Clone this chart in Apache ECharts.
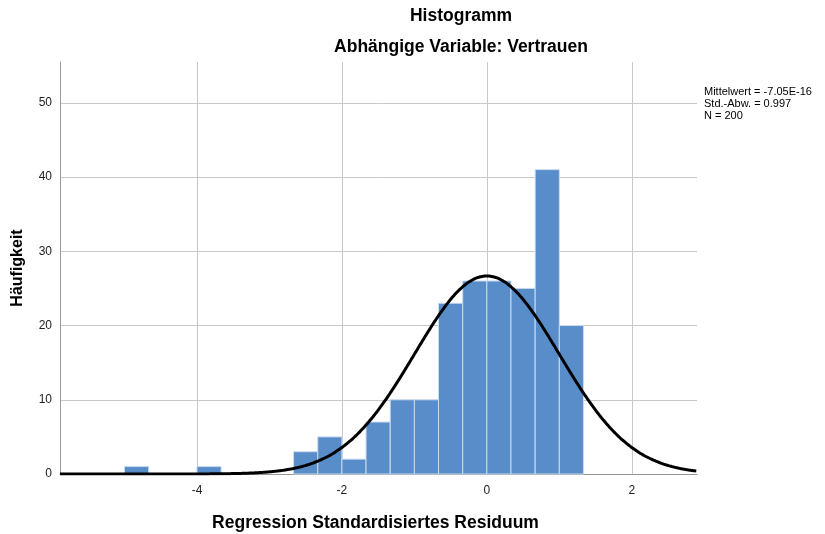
<!DOCTYPE html>
<html><head><meta charset="utf-8">
<script src="https://cdn.jsdelivr.net/npm/echarts@6/dist/echarts.min.js"></script>
<style>html,body{margin:0;padding:0;background:#fff}#c{width:825px;height:534px}</style>
</head><body><div id="c"></div>
<script>
const binStarts = [-5.000, -4.000, -2.667, -2.333, -2.000, -1.667, -1.333, -1.000, -0.667, -0.333, 0.000, 0.333, 0.667, 1.000];
const counts    = [1, 1, 3, 5, 2, 7, 10, 10, 23, 26, 26, 25, 41, 20];
const binWidth = 0.3333;
const meanVal = -7.05e-16, sdVal = 0.997, nVal = 200;
const xTicks = [-4, -2, 0, 2];
const yTicks = [0, 10, 20, 30, 40, 50];
const xMin = -5.89, xMax = 2.90, yMax = 55.5;
const legendLines = ['Mittelwert = -7.05E-16', 'Std.-Abw. = 0.997', 'N = 200'];

const curve = [];
for (let x = xMin; x <= xMax + 1e-9; x += 0.02) {
  const z = (x - meanVal) / sdVal;
  curve.push([x, nVal * binWidth * Math.exp(-0.5 * z * z) / (sdVal * Math.sqrt(2 * Math.PI))]);
}
const barData = binStarts.map((s, i) => [s, s + binWidth, counts[i]]);
const font = 'Liberation Sans, Arial, sans-serif';
const chart = echarts.init(document.getElementById('c'), null, {renderer: 'canvas'});
chart.setOption({
  animation: false,
  title: [
    {text: 'Histogramm', left: 456, top: 2, textAlign: 'center', textStyle: {fontFamily: font, fontSize: 17.5, fontWeight: 'bold', color: '#000'}},
    {text: 'Abhängige Variable: Vertrauen', left: 456, top: 33, textAlign: 'center', textStyle: {fontFamily: font, fontSize: 17.5, fontWeight: 'bold', color: '#000'}}
  ],
  graphic: [
    {type: 'text', left: 704, top: 86, style: {text: legendLines.join('\n'), font: '11px ' + font, fill: '#000', lineHeight: 12}}
  ],
  grid: {left: 60, right: 128, top: 62, bottom: 60, outerBoundsMode: 'none', containLabel: false},
  xAxis: {
    type: 'value', min: xMin, max: xMax,
    name: 'Regression Standardisiertes Residuum', nameLocation: 'middle', nameGap: 40,
    nameTextStyle: {fontFamily: font, fontSize: 17.5, fontWeight: 'bold', color: '#000', padding: [0, 6, 0, 0]},
    axisLine: {show: true, onZero: false, lineStyle: {color: '#999', width: 1}},
    axisTick: {show: false, customValues: xTicks},
    axisLabel: {customValues: xTicks, fontFamily: font, fontSize: 12, color: '#222', margin: 11},
    splitLine: {show: true, lineStyle: {color: '#c8c8c8', width: 1}}
  },
  yAxis: {
    type: 'value', min: 0, max: yMax,
    name: 'Häufigkeit', nameLocation: 'middle', nameGap: 34, nameRotate: 90,
    nameTextStyle: {fontFamily: font, fontSize: 16, fontWeight: 'bold', color: '#000'},
    axisLine: {show: true, onZero: false, lineStyle: {color: '#999', width: 1}},
    axisTick: {show: false, customValues: yTicks},
    axisLabel: {customValues: yTicks, fontFamily: font, fontSize: 12, color: '#222', margin: 8},
    splitLine: {show: true, lineStyle: {color: '#c8c8c8', width: 1}}
  },
  series: [
    {
      type: 'custom', data: barData, z: 2,
      encode: {x: [0, 1], y: 2},
      renderItem: function (params, api) {
        const p0 = api.coord([api.value(0), 0]);
        const p1 = api.coord([api.value(1), api.value(2)]);
        return {type: 'rect', shape: {x: p0[0], y: p1[1], width: p1[0] - p0[0], height: p0[1] - p1[1]},
          style: {fill: '#588dca', stroke: '#c9dbef', lineWidth: 1}};
      }
    },
    {
      type: 'line', data: curve, showSymbol: false, smooth: true, z: 3,
      lineStyle: {color: '#000', width: 3}
    }
  ]
});
</script></body></html>
